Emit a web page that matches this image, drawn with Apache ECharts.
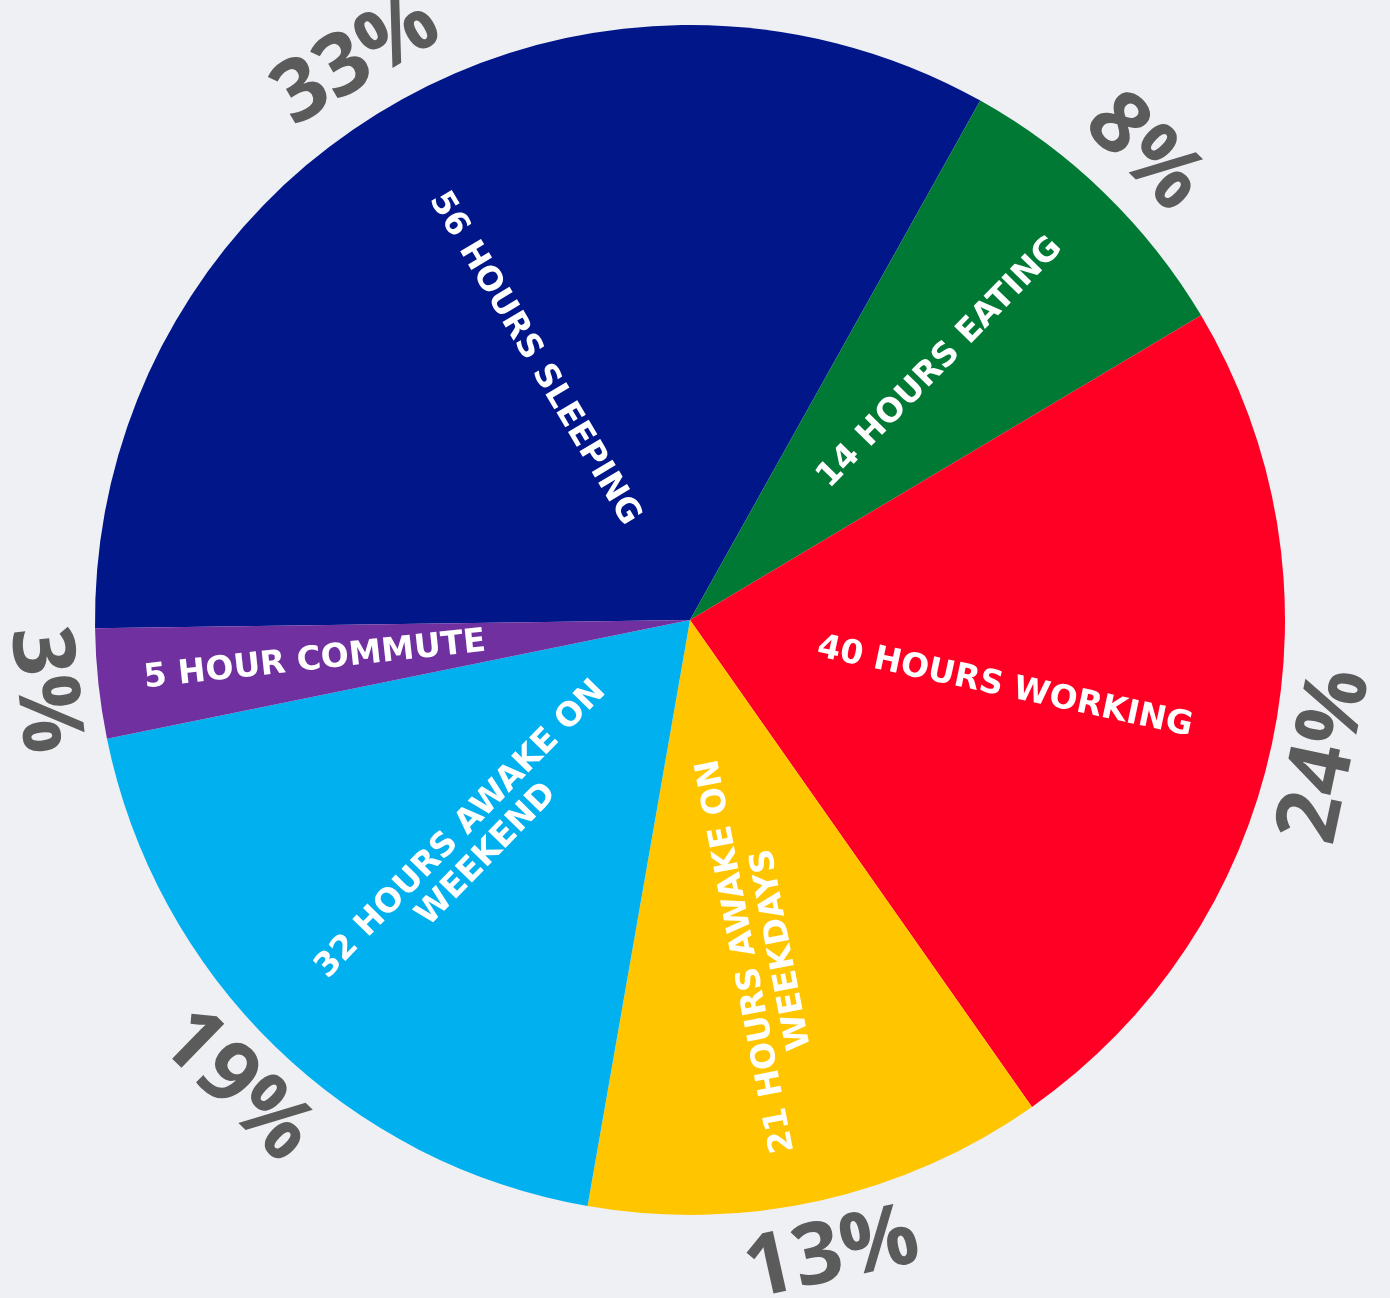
<!DOCTYPE html>
<html>
<head>
<meta charset="utf-8">
<script src="https://cdn.jsdelivr.net/npm/echarts@6/dist/echarts.min.js"></script>
<style>
html,body{margin:0;padding:0;background:#eef0f4;}
#chart{width:1390px;height:1298px;}
</style>
</head>
<body>
<div id="chart"></div>
<script>
// ---- data ----
const categories = ['Sleeping', 'Eating', 'Working', 'Awake on weekdays', 'Awake on weekend', 'Commute'];
const hours = [56, 14, 40, 21, 32, 5];
const labelTexts = [
  '56 HOURS SLEEPING',
  '14 HOURS EATING',
  '40 HOURS WORKING',
  '21 HOURS AWAKE ON\nWEEKDAYS',
  '32 HOURS AWAKE ON\nWEEKEND',
  '5 HOUR COMMUTE'
];

// ---- style ----
const colors = ['#001689', '#007934', '#ff0024', '#ffc600', '#00b0ef', '#7030a0'];
const CX = 690, CY = 620, R = 595;
const labelRadiusFactor = [0.511, 0.603, 0.541, 0.573, 0.521, 0.634];
const labelRotateOverride = { 3: 101 };

const total = hours.reduce((a, b) => a + b, 0);

const innerData = categories.map((c, i) => {
  const item = { name: c, value: hours[i], itemStyle: { color: colors[i] } };
  if (labelRotateOverride[i] != null) item.label = { rotate: labelRotateOverride[i] };
  return item;
});
const outerData = categories.map((c, i) => ({ name: c, value: hours[i] }));

const chart = echarts.init(document.getElementById('chart'));
chart.setOption({
  backgroundColor: '#eef0f4',
  animation: false,
  series: [
    {
      type: 'pie',
      center: [CX, CY],
      radius: [0, R],
      startAngle: 180.8,
      clockwise: true,
      silent: true,
      data: innerData,
      itemStyle: { borderWidth: 0 },
      label: {
        show: true,
        position: 'inside',
        rotate: 'radial',
        color: '#ffffff',
        fontFamily: 'DejaVu Sans',
        fontWeight: 'bold',
        fontSize: 33,
        lineHeight: 36,
        align: 'center',
        formatter: p => labelTexts[p.dataIndex]
      },
      labelLine: { show: false },
      emphasis: { disabled: true },
      labelLayout: function (params) {
        const f = labelRadiusFactor[params.dataIndex];
        const lr = params.labelRect;
        const lx = lr.x + lr.width / 2, ly = lr.y + lr.height / 2;
        const dx = lx - CX, dy = ly - CY;
        const d = Math.hypot(dx, dy) || 1;
        return { x: CX + dx / d * R * f, y: CY + dy / d * R * f };
      }
    },
    {
      type: 'pie',
      center: [CX, CY],
      radius: [602, 694],
      startAngle: 180.8,
      clockwise: true,
      silent: true,
      data: outerData,
      itemStyle: { color: 'rgba(0,0,0,0)', borderWidth: 0 },
      label: {
        show: true,
        position: 'inside',
        rotate: 'tangential',
        color: '#5a5b5a',
        fontFamily: 'Open Sans',
        fontWeight: 700,
        fontSize: 86,
        formatter: p => Math.round(p.value / total * 100) + '%'
      },
      labelLine: { show: false },
      emphasis: { disabled: true }
    }
  ]
});
</script>
</body>
</html>
